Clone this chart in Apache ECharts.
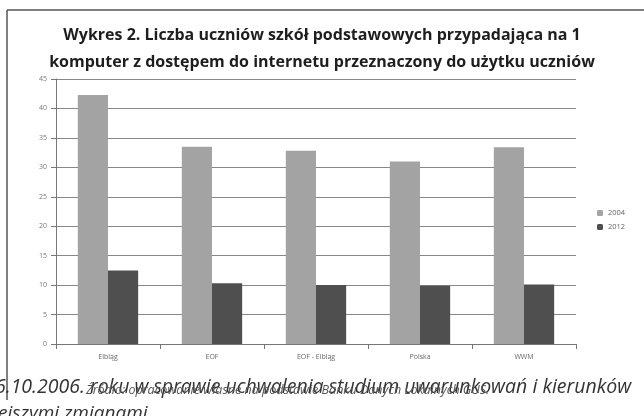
<!DOCTYPE html>
<html>
<head>
<meta charset="utf-8">
<script src="https://cdn.jsdelivr.net/npm/echarts@6/dist/echarts.min.js"></script>
<style>
html, body { margin: 0; padding: 0; background: #fff; }
#chart { width: 644px; height: 416px; }
</style>
</head>
<body>
<div id="chart"></div>
<script>
const categories = ['Elbląg', 'EOF', 'EOF - Elbląg', 'Polska', 'WWM'];
const values2004 = [42.3, 33.5, 32.8, 31.0, 33.4];
const values2012 = [12.5, 10.3, 10.0, 9.9, 10.1];
const yTicks = [0, 5, 10, 15, 20, 25, 30, 35, 40, 45];

const chart = echarts.init(document.getElementById('chart'));
const font = '"Open Sans", "DejaVu Sans", sans-serif';

const option = {
    backgroundColor: '#fff',
    animation: false,
    title: {
        text: 'Wykres 2. Liczba uczniów szkół podstawowych przypadająca na 1\nkomputer z dostępem do internetu przeznaczony do użytku uczniów',
        left: 'center',
        top: 17,
        textStyle: {
            fontFamily: font,
            fontSize: 16,
            fontWeight: 'bold',
            color: '#1e1e1e',
            lineHeight: 27
        }
    },
    legend: {
        orient: 'vertical',
        left: 592,
        top: 204,
        itemWidth: 6,
        itemHeight: 6,
        itemGap: 6,
        textStyle: { fontFamily: font, fontSize: 7.5, color: '#666' },
        data: ['2004', '2012']
    },
    grid: { left: 56, right: 68, top: 79, bottom: 72 },
    xAxis: {
        type: 'category',
        data: categories,
        axisLine: { lineStyle: { color: '#777', width: 1 } },
        axisTick: { show: true, length: 5, lineStyle: { color: '#777' } },
        axisLabel: { fontFamily: font, fontSize: 7, color: '#666', margin: 9 }
    },
    yAxis: {
        type: 'value',
        min: yTicks[0],
        max: yTicks[yTicks.length - 1],
        interval: 5,
        axisLine: { show: true, lineStyle: { color: '#777', width: 1 } },
        axisTick: { show: true, length: 5, lineStyle: { color: '#777' } },
        axisLabel: { fontFamily: font, fontSize: 7, color: '#777', margin: 9 },
        splitLine: { lineStyle: { color: '#888', width: 1 } }
    },
    series: [
        {
            name: '2004',
            type: 'bar',
            data: values2004,
            barGap: '0%',
            barCategoryGap: '42%',
            itemStyle: { color: '#a3a3a3' }
        },
        {
            name: '2012',
            type: 'bar',
            data: values2012,
            itemStyle: { color: '#4f4f4f' }
        }
    ],
    graphic: [
        // ramka skanu
        { type: 'line', shape: { x1: 7, y1: 10, x2: 644, y2: 10 }, style: { stroke: '#555', lineWidth: 1.5 } },
        { type: 'line', shape: { x1: 7, y1: 10, x2: 7, y2: 400 }, style: { stroke: '#555', lineWidth: 1.5 } },
        {
            type: 'text', left: -5, top: 377,
            style: {
                text: '6.10.2006. roku w sprawie uchwalenia studium uwarunkowań i kierunków',
                font: 'italic 19.5px ' + font, fill: '#333'
            }
        },
        {
            type: 'text', left: 86, top: 384,
            style: {
                text: 'Źródło: opracowanie własne na podstawie Banku Danych Lokalnych GUS.',
                font: 'italic 12.5px ' + font, fill: '#555'
            }
        },
        {
            type: 'text', left: -2, top: 404,
            style: {
                text: 'eiszymi zmianami',
                font: 'italic 19px ' + font, fill: '#333'
            }
        }
    ]
};

chart.setOption(option);
</script>
</body>
</html>
